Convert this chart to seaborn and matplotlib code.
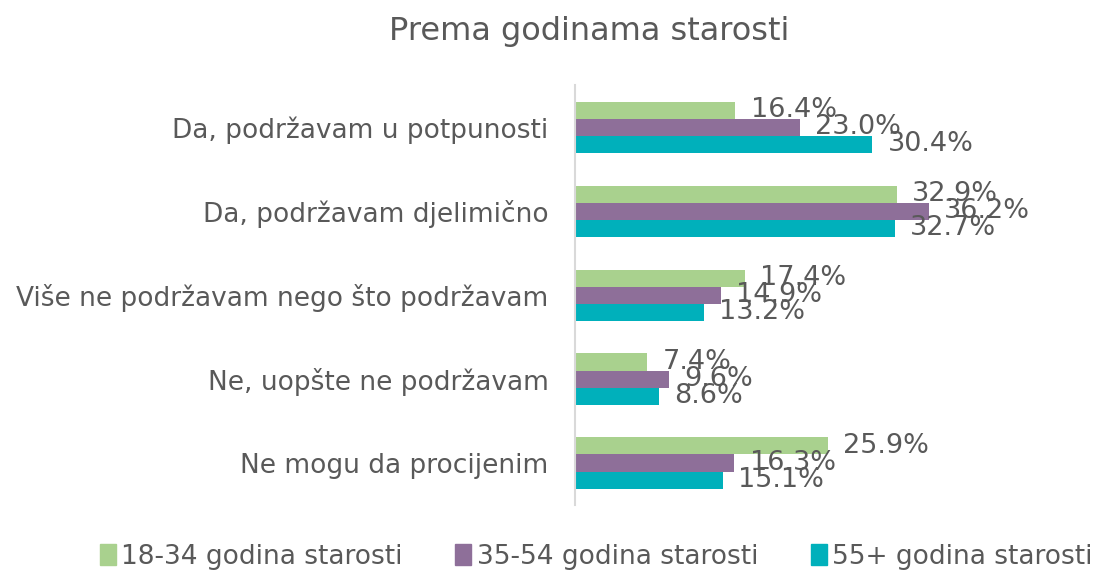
import pandas as pd
import numpy as np
import seaborn as sns
import matplotlib.pyplot as plt

# data
categories = ['Da, podržavam u potpunosti', 'Da, podržavam djelimično',
              'Više ne podržavam nego što podržavam', 'Ne, uopšte ne podržavam',
              'Ne mogu da procijenim']
groups = ['18-34 godina starosti', '35-54 godina starosti', '55+ godina starosti']
age_18_34 = [16.4, 32.9, 17.4, 7.4, 25.9]
age_35_54 = [23.0, 36.2, 14.9, 9.6, 16.3]
age_55 = [30.4, 32.7, 13.2, 8.6, 15.1]
colors = ['#a9d18e', '#8e6f99', '#00b0bb']

df = pd.DataFrame({
    'Odgovor': categories * 3,
    'Grupa': np.repeat(groups, len(categories)),
    'Procenat': age_18_34 + age_35_54 + age_55,
})

sns.set_style('white')
plt.rcParams['font.family'] = ['DejaVu Sans']
txt = '#595959'

fig = plt.figure(figsize=(11, 5.71), dpi=100)
ax = fig.add_axes([0.5227, 0.1156, 0.40, 0.735])

sns.barplot(data=df, y='Odgovor', x='Procenat', hue='Grupa', order=categories,
            hue_order=groups, palette=colors, orient='h', width=0.61,
            saturation=1, linewidth=0, ax=ax, legend=True)

for c in ax.containers:
    ax.bar_label(c, fmt='%.1f%%', padding=11, fontsize=19.5, color=txt)

ax.set_xlim(0, 45)
ax.set_xlabel('')
ax.set_ylabel('')
ax.set_xticks([])
ax.tick_params(axis='y', length=0, labelsize=19, labelcolor=txt, pad=19)
for s in ['top', 'right', 'bottom']:
    ax.spines[s].set_visible(False)
ax.spines['left'].set_color('#d9d9d9')
ax.spines['left'].set_linewidth(1.5)

fig.text(0.536, 0.944, 'Prema godinama starosti', ha='center', va='center',
         fontsize=23, color=txt)

ax.legend_.remove()
handles = [plt.Rectangle((0, 0), 1, 1, color=c) for c in colors]
fig.legend(handles, groups, loc='center', bbox_to_anchor=(0.542, 0.025), ncol=3,
           frameon=False, fontsize=19, labelcolor=txt, handlelength=0.6,
           handleheight=0.8, handletextpad=0.2, columnspacing=2.0)

fig.savefig('out.png', dpi=100)
